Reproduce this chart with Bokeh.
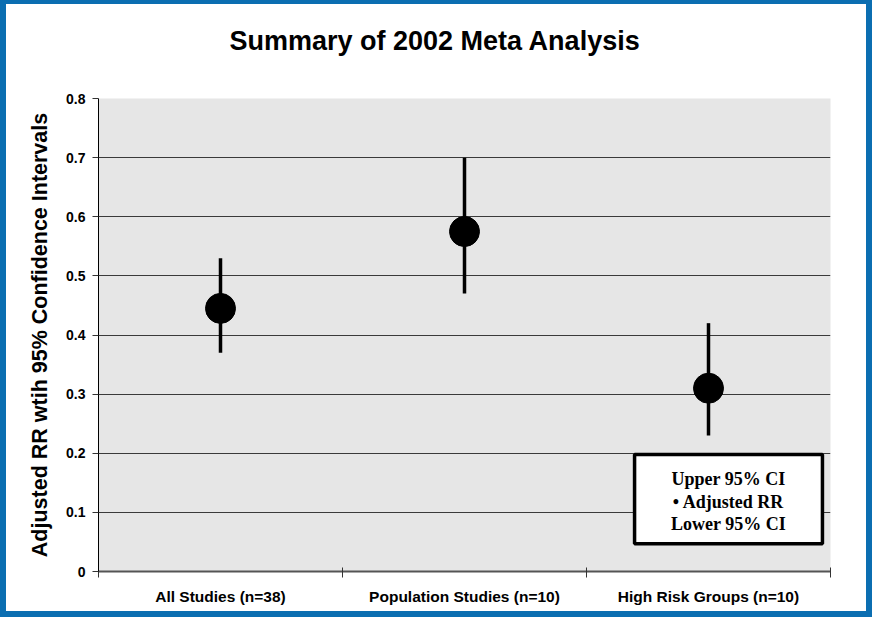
from bokeh.plotting import figure
from bokeh.models import FixedTicker, Range1d, Title
from bokeh.core.properties import value
from bokeh.embed import file_html
from bokeh.resources import INLINE

# ---- data ----
categories = ["All Studies (n=38)", "Population Studies (n=10)", "High Risk Groups (n=10)"]
adjusted_rr = [0.445, 0.575, 0.31]
upper_ci = [0.53, 0.70, 0.42]
lower_ci = [0.37, 0.47, 0.23]
y_ticks = [0, 0.1, 0.2, 0.3, 0.4, 0.5, 0.6, 0.7, 0.8]
y_tick_labels = ["0", "0.1", "0.2", "0.3", "0.4", "0.5", "0.6", "0.7", "0.8"]
legend_lines = ["Upper 95% CI", "\u2022 Adjusted RR", "Lower 95% CI"]
title_text = "Summary of 2002 Meta Analysis"
y_label = "Adjusted RR wtih 95% Confidence Intervals"

# category centres on a numeric axis (one unit per category)
xpos = [i + 0.5 for i in range(len(categories))]
bounds = list(range(len(categories) + 1))

FONT = "Liberation Sans"
BLUE = "#0b6eb1"

p = figure(width=872, height=617, output_backend="svg", toolbar_location=None,
           x_range=Range1d(0, len(categories)), y_range=Range1d(0, 0.8),
           min_border_left=98, min_border_right=42, min_border_top=98, min_border_bottom=46)

p.styles = {"background-color": "white",
            "box-shadow": f"inset 6px 4px 0 0 {BLUE}, inset -6px -6px 0 0 {BLUE}"}

p.background_fill_color = "#e6e6e6"
p.border_fill_color = None
p.outline_line_color = None

# spacer between title and plot area, then the title itself (outermost)
p.add_layout(Title(text=" ", text_font_size="2px", standoff=32), "above")
p.add_layout(Title(text=title_text, align="left", offset=131, text_font=FONT,
                   text_font_size="27px", text_font_style="bold", text_color="black",
                   vertical_align="top", standoff=10), "above")

# grid
p.xgrid.visible = False
p.ygrid.ticker = FixedTicker(ticks=y_ticks[1:])
p.ygrid.grid_line_color = "#3a3a3a"
p.ygrid.grid_line_width = 1

# y axis
p.yaxis.ticker = FixedTicker(ticks=y_ticks)
p.yaxis.major_label_overrides = {t: l for t, l in zip(y_ticks, y_tick_labels)}
p.yaxis.major_label_text_font = FONT
p.yaxis.major_label_text_font_style = "bold"
p.yaxis.major_label_text_font_size = "14px"
p.yaxis.major_label_text_color = "black"
p.yaxis.major_tick_in = 0
p.yaxis.major_tick_out = 6
p.yaxis.major_tick_line_color = "#333333"
p.yaxis.minor_tick_line_color = None
p.yaxis.axis_line_color = "black"
p.yaxis.major_label_standoff = 7
p.yaxis.axis_label = y_label
p.yaxis.axis_label_text_font = FONT
p.yaxis.axis_label_text_font_style = "bold"
p.yaxis.axis_label_text_font_size = "21.5px"
p.yaxis.axis_label_text_color = "black"
p.yaxis.axis_label_standoff = 11

# x axis
p.xaxis.ticker = FixedTicker(ticks=xpos, minor_ticks=bounds)
p.xaxis.major_label_overrides = {x: c for x, c in zip(xpos, categories)}
p.xaxis.major_label_text_font = FONT
p.xaxis.major_label_text_font_style = "bold"
p.xaxis.major_label_text_font_size = "15.5px"
p.xaxis.major_label_text_color = "black"
p.xaxis.major_tick_in = 0
p.xaxis.major_tick_out = 0
p.xaxis.minor_tick_in = 4
p.xaxis.minor_tick_out = 6
p.xaxis.minor_tick_line_color = "#333333"
p.xaxis.axis_line_color = "#555555"
p.xaxis.axis_line_width = 2
p.xaxis.major_label_standoff = 10

# error bars and points
p.segment(x0=xpos, y0=lower_ci, x1=xpos, y1=upper_ci, line_color="black", line_width=3.5)
p.scatter(x=xpos, y=adjusted_rr, size=30, marker="circle", fill_color="black", line_color="black")

# explanatory box
bx0, bx1, by0, by1 = 2.197, 2.967, 0.047, 0.198
p.quad(left=[bx0], right=[bx1], bottom=[by0], top=[by1], fill_color="white",
       line_color="black", line_width=3.5)
p.text(x=[(bx0 + bx1) / 2] * 3, y=[0.157, 0.1175, 0.0795], text=legend_lines,
       text_font=value("Liberation Serif"), text_font_style="bold", text_font_size="18px",
       text_align="center", text_baseline="middle", text_color="black")

open("out.html", "w").write(file_html(p, INLINE))
